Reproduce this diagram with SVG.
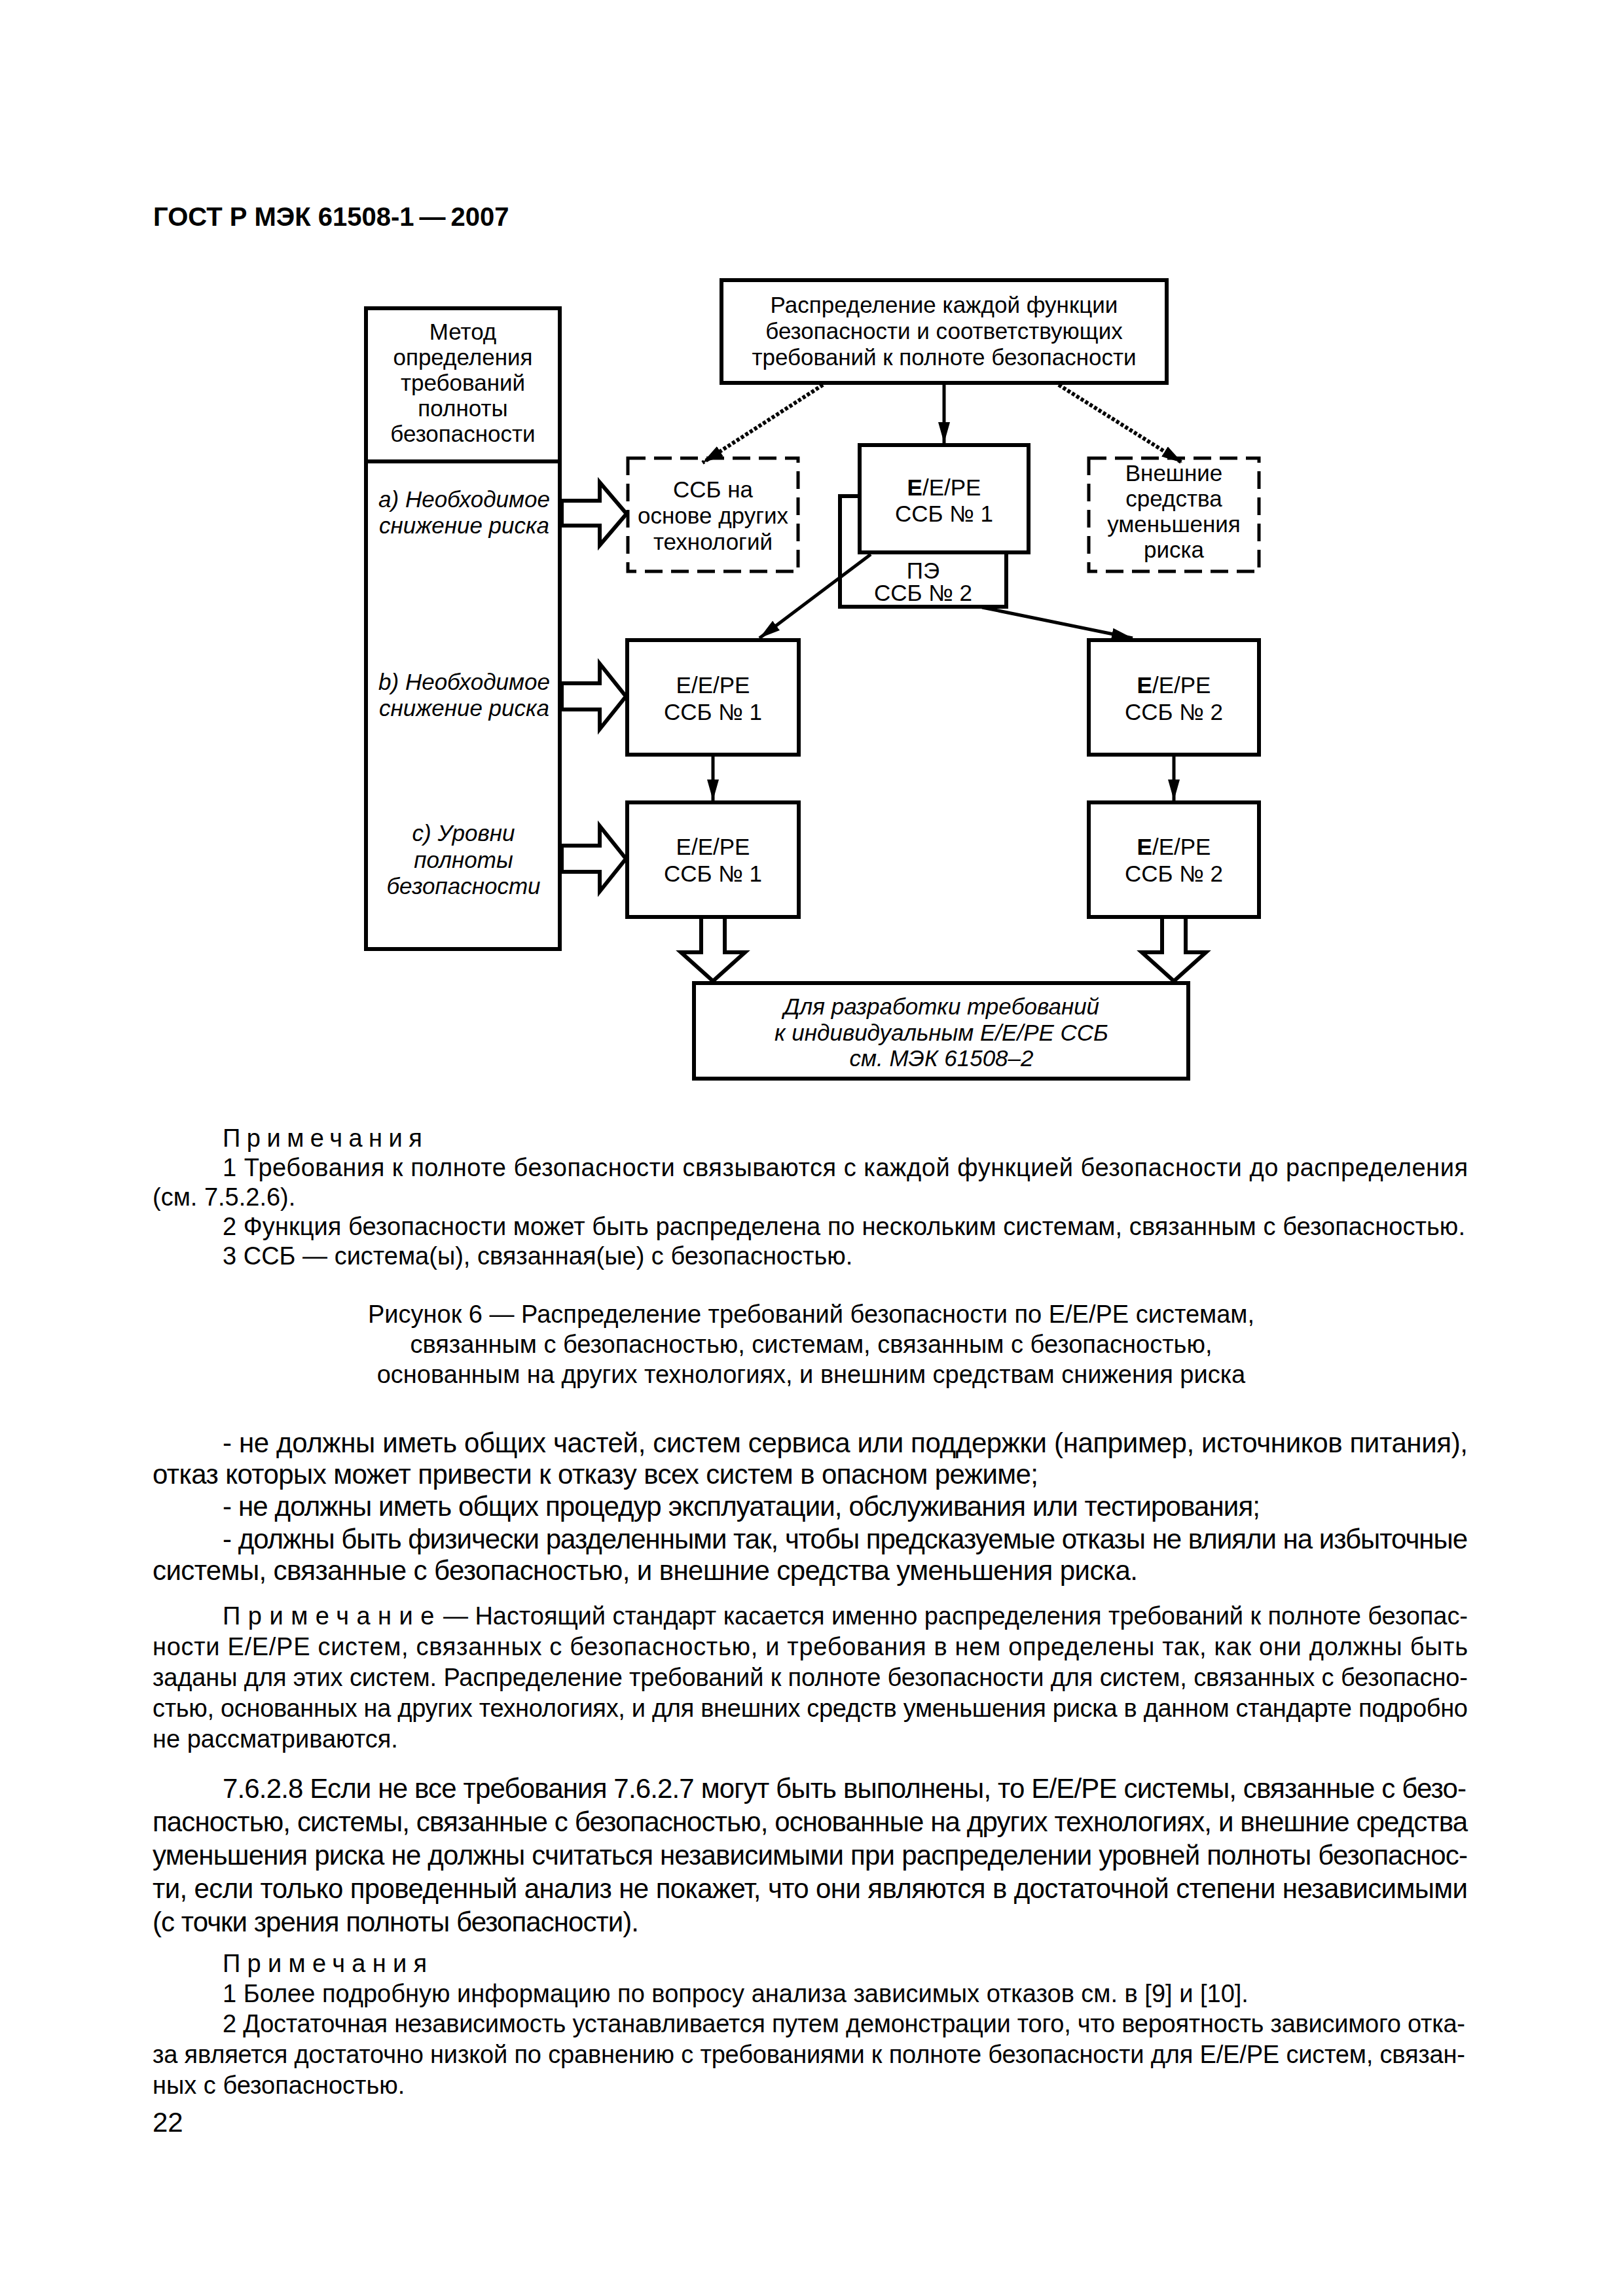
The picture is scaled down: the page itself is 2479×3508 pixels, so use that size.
<svg xmlns="http://www.w3.org/2000/svg" width="2479" height="3508" viewBox="0 0 2479 3508">
<defs>
<style>
.t{font-family:"Liberation Sans",Arial,sans-serif;fill:#000}
.hd{font-size:40px;font-weight:bold}
.d{font-size:35px;text-anchor:middle}
.di{font-size:35px;font-style:italic;text-anchor:middle}
.n{font-size:38px}
.b{font-size:42px}
.c{font-size:38px;text-anchor:middle}
.box{fill:#fff;stroke:#000;stroke-width:6}
.dbox{fill:#fff;stroke:#000;stroke-width:5;stroke-dasharray:27 13}
.ln{fill:none;stroke:#000;stroke-width:5}
.dot{fill:none;stroke:#000;stroke-width:6;stroke-dasharray:5 3}
.hol{fill:#fff;stroke:#000;stroke-width:6;stroke-linejoin:miter}
</style>
<marker id="ah" markerUnits="userSpaceOnUse" markerWidth="34" markerHeight="20" refX="32" refY="10" orient="auto">
<path d="M0,1 L32,10 L0,19 z" fill="#000"/>
</marker>
</defs>
<rect width="2479" height="3508" fill="#fff"/>

<text class="t hd" x="234" y="345">ГОСТ Р МЭК 61508-1<tspan dx="8">—</tspan><tspan dx="8">2007</tspan></text>

<g id="method">
<rect class="box" x="559" y="471" width="296" height="979"/>
<line x1="559" y1="705" x2="855" y2="705" stroke="#000" stroke-width="6"/>
<text class="t d" x="707" y="519">Метод</text>
<text class="t d" x="707" y="558">определения</text>
<text class="t d" x="707" y="597">требований</text>
<text class="t d" x="707" y="636">полноты</text>
<text class="t d" x="707" y="675">безопасности</text>
<text class="t di" x="709" y="775">a) Необходимое</text>
<text class="t di" x="709" y="815">снижение риска</text>
<text class="t di" x="709" y="1054">b) Необходимое</text>
<text class="t di" x="709" y="1094">снижение риска</text>
<text class="t di" x="708" y="1285">c) Уровни</text>
<text class="t di" x="708" y="1326">полноты</text>
<text class="t di" x="708" y="1366">безопасности</text>
</g>

<g id="alloc">
<rect class="box" x="1102" y="428" width="680" height="157"/>
<text class="t d" x="1442" y="478">Распределение каждой функции</text>
<text class="t d" x="1442" y="518">безопасности и соответствующих</text>
<text class="t d" x="1442" y="558">требований к полноте безопасности</text>
</g>

<g id="other-tech">
<rect class="dbox" x="959" y="700" width="260" height="173"/>
<text class="t d" x="1089" y="760">ССБ на</text>
<text class="t d" x="1089" y="800">основе других</text>
<text class="t d" x="1089" y="840">технологий</text>
</g>

<g id="external">
<rect class="dbox" x="1663" y="700" width="260" height="173"/>
<text class="t d" x="1793" y="735">Внешние</text>
<text class="t d" x="1793" y="774">средства</text>
<text class="t d" x="1793" y="813">уменьшения</text>
<text class="t d" x="1793" y="852">риска</text>
</g>

<g id="pe-ssb2">
<rect class="box" x="1283" y="758" width="254" height="169"/>
<text class="t d" x="1410" y="884">ПЭ</text>
<text class="t d" x="1410" y="918">ССБ № 2</text>
</g>

<g id="eepe-ssb1-top">
<rect class="box" x="1313" y="680" width="258" height="164"/>
<text class="t d" x="1442" y="757"><tspan font-weight="bold">E</tspan>/E/PE</text>
<text class="t d" x="1442" y="797">ССБ № 1</text>
</g>

<g id="eepe-ssb1-b">
<rect class="box" x="958" y="978" width="262" height="175"/>
<text class="t d" x="1089" y="1059">E/E/PE</text>
<text class="t d" x="1089" y="1100">ССБ № 1</text>
</g>

<g id="eepe-ssb1-c">
<rect class="box" x="958" y="1226" width="262" height="175"/>
<text class="t d" x="1089" y="1306">E/E/PE</text>
<text class="t d" x="1089" y="1347">ССБ № 1</text>
</g>

<g id="eepe-ssb2-b">
<rect class="box" x="1663" y="978" width="260" height="175"/>
<text class="t d" x="1793" y="1059"><tspan font-weight="bold">E</tspan>/E/PE</text>
<text class="t d" x="1793" y="1100">ССБ № 2</text>
</g>

<g id="eepe-ssb2-c">
<rect class="box" x="1663" y="1226" width="260" height="175"/>
<text class="t d" x="1793" y="1306"><tspan font-weight="bold">E</tspan>/E/PE</text>
<text class="t d" x="1793" y="1347">ССБ № 2</text>
</g>

<g id="develop">
<rect class="box" x="1060" y="1502" width="755" height="146"/>
<text class="t di" x="1438" y="1550">Для разработки требований</text>
<text class="t di" x="1438" y="1590">к индивидуальным E/E/PE ССБ</text>
<text class="t di" x="1438" y="1629">см. МЭК 61508–2</text>
</g>

<g id="connectors">
<line class="ln" x1="1442" y1="585" x2="1442" y2="677" marker-end="url(#ah)"/>
<line class="dot" x1="1257" y1="588" x2="1073" y2="707" marker-end="url(#ah)"/>
<line class="dot" x1="1617" y1="588" x2="1806" y2="707" marker-end="url(#ah)"/>
<line class="ln" x1="1330" y1="847" x2="1160" y2="975" marker-end="url(#ah)"/>
<line class="ln" x1="1500" y1="928" x2="1730" y2="975" marker-end="url(#ah)"/>
<line class="ln" x1="1089" y1="1156" x2="1089" y2="1223" marker-end="url(#ah)"/>
<line class="ln" x1="1793" y1="1156" x2="1793" y2="1223" marker-end="url(#ah)"/>
<polygon class="hol" points="858,765 916,765 916,737 957,785 916,833 916,803 858,803"/>
<polygon class="hol" points="858,1044 916,1044 916,1014 956,1064 916,1114 916,1084 858,1084"/>
<polygon class="hol" points="858,1292 916,1292 916,1262 956,1312 916,1362 916,1332 858,1332"/>
<polygon class="hol" points="1071,1401 1071,1455 1040,1455 1089,1499 1138,1455 1107,1455 1107,1401"/>
<polygon class="hol" points="1775,1401 1775,1455 1744,1455 1793,1499 1842,1455 1811,1455 1811,1401"/>
</g>

<g id="notes">
<text class="t n" x="340" y="1752" letter-spacing="9.5">Примечания</text>
<text class="t n" x="340" y="1797" textLength="1902">1 Требования к полноте безопасности связываются с каждой функцией безопасности до распределения</text>
<text class="t n" x="233" y="1842">(см. 7.5.2.6).</text>
<text class="t n" x="340" y="1887" textLength="1898">2 Функция безопасности может быть распределена по нескольким системам, связанным с безопасностью.</text>
<text class="t n" x="340" y="1932">3 ССБ — система(ы), связанная(ые) с безопасностью.</text>
</g>

<g id="caption">
<text class="t c" x="1239" y="2021">Рисунок 6 — Распределение требований безопасности по E/E/PE системам,</text>
<text class="t c" x="1239" y="2067">связанным с безопасностью, системам, связанным с безопасностью,</text>
<text class="t c" x="1239" y="2113">основанным на других технологиях, и внешним средствам снижения риска</text>
</g>

<g id="body">
<text class="t b" x="340" y="2219" textLength="1902">- не должны иметь общих частей, систем сервиса или поддержки (например, источников питания),</text>
<text class="t b" x="233" y="2267" textLength="1353">отказ которых может привести к отказу всех систем в опасном режиме;</text>
<text class="t b" x="340" y="2316" textLength="1585">- не должны иметь общих процедур эксплуатации, обслуживания или тестирования;</text>
<text class="t b" x="340" y="2366" textLength="1902">- должны быть физически разделенными так, чтобы предсказуемые отказы не влияли на избыточные</text>
<text class="t b" x="233" y="2414" textLength="1505">системы, связанные с безопасностью, и внешние средства уменьшения риска.</text>

<text class="t n" x="340" y="2482" letter-spacing="11.5">Примечание</text>
<text class="t n" x="677" y="2482" textLength="1565">— Настоящий стандарт касается именно распределения требований к полноте безопас-</text>
<text class="t n" x="233" y="2529" textLength="2009">ности E/E/PE систем, связанных с безопасностью, и требования в нем определены так, как они должны быть</text>
<text class="t n" x="233" y="2576" textLength="2009">заданы для этих систем. Распределение требований к полноте безопасности для систем, связанных с безопасно-</text>
<text class="t n" x="233" y="2623" textLength="2009">стью, основанных на других технологиях, и для внешних средств уменьшения риска в данном стандарте подробно</text>
<text class="t n" x="233" y="2670">не рассматриваются.</text>

<text class="t b" x="340" y="2747" textLength="1900">7.6.2.8 Если не все требования 7.6.2.7 могут быть выполнены, то E/E/PE системы, связанные с безо-</text>
<text class="t b" x="233" y="2798" textLength="2009">пасностью, системы, связанные с безопасностью, основанные на других технологиях, и внешние средства</text>
<text class="t b" x="233" y="2849" textLength="2009">уменьшения риска не должны считаться независимыми при распределении уровней полноты безопаснос-</text>
<text class="t b" x="233" y="2900" textLength="2009">ти, если только проведенный анализ не покажет, что они являются в достаточной степени независимыми</text>
<text class="t b" x="233" y="2951" textLength="743">(с точки зрения полноты безопасности).</text>

<text class="t n" x="340" y="3013" letter-spacing="10.3">Примечания</text>
<text class="t n" x="340" y="3059">1 Более подробную информацию по вопросу анализа зависимых отказов см. в [9] и [10].</text>
<text class="t n" x="340" y="3105" textLength="1898">2 Достаточная независимость устанавливается путем демонстрации того, что вероятность зависимого отка-</text>
<text class="t n" x="233" y="3152" textLength="2005">за является достаточно низкой по сравнению с требованиями к полноте безопасности для E/E/PE систем, связан-</text>
<text class="t n" x="233" y="3199">ных с безопасностью.</text>

<text class="t b" x="233" y="3257">22</text>
</g>
</svg>
